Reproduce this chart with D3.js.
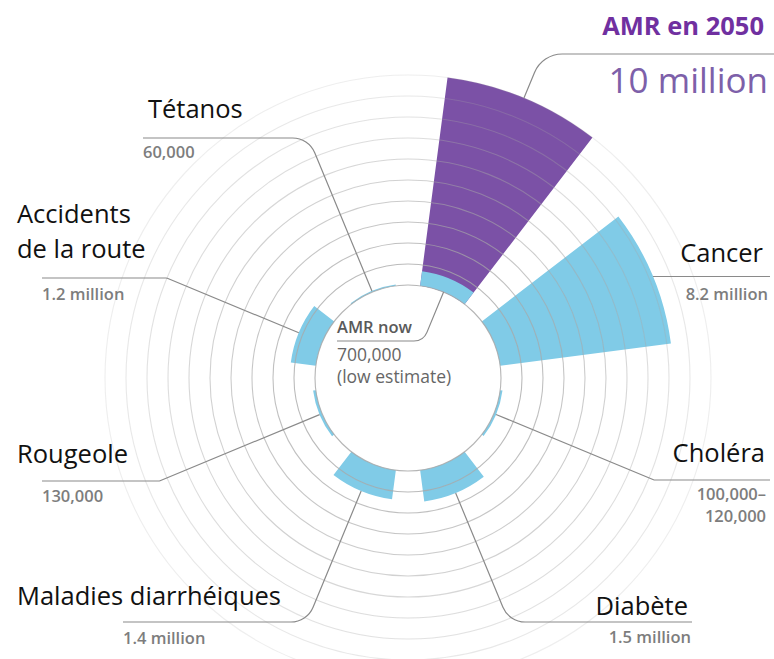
<!DOCTYPE html>
<html><head><meta charset="utf-8">
<script src="https://cdn.jsdelivr.net/npm/d3@7"></script>
<style>
html,body{margin:0;padding:0;background:#fff;}
svg{display:block;}
</style></head>
<body>
<script>
// ---- data ----
const categories = ["AMR en 2050","Cancer","Choléra","Diabète","Maladies diarrhéiques","Rougeole","Accidents de la route","Tétanos"];
const values = [10, 8.2, 0.11, 1.5, 1.4, 0.13, 1.2, 0.06]; // deaths per year, millions
const amrNowValue = 0.7;
const nameLabels = [["AMR en 2050"],["Cancer"],["Choléra"],["Diabète"],["Maladies diarrhéiques"],["Rougeole"],["Accidents","de la route"],["Tétanos"]];
const valueLabels = [["10 million"],["8.2 million"],["100,000–","120,000"],["1.5 million"],["1.4 million"],["130,000"],["1.2 million"],["60,000"]];
const amrNowLabels = ["AMR now","700,000","(low estimate)"];
const ringTicks = [0,1,2,3,4,5,6,7,8,9,10];

// ---- layout ----
const W = 774, H = 659, cx = 408, cy = 378;
const svg = d3.select("body").append("svg").attr("width", W).attr("height", H);
const g = svg.append("g").attr("transform", `translate(${cx},${cy})`);

const r = d3.scaleLinear().domain([0, 10]).range([93, 303]);
const ang = d3.scaleBand().domain(categories).range([0, 2 * Math.PI]).paddingInner(1/3).paddingOuter(1/6);
const mid = c => ang(c) + ang.bandwidth() / 2;
const pt = (a, rad) => [rad * Math.sin(a), -rad * Math.cos(a)];

const BLUE = "#80cbe7", PURPLE = "#7b51a6";

// bars
const arc = d3.arc();
g.selectAll("path.bar").data(categories).join("path")
  .attr("class", "bar")
  .attr("d", (c, i) => arc({innerRadius: r(0), outerRadius: r(values[i]), startAngle: ang(c), endAngle: ang(c) + ang.bandwidth()}))
  .attr("fill", (c, i) => i === 0 ? PURPLE : BLUE);
// AMR now portion
g.append("path")
  .attr("d", arc({innerRadius: r(0), outerRadius: r(amrNowValue), startAngle: ang(categories[0]), endAngle: ang(categories[0]) + ang.bandwidth()}))
  .attr("fill", BLUE);

// rings
g.selectAll("circle.ring").data(ringTicks).join("circle")
  .attr("class", "ring")
  .attr("r", d => r(d))
  .attr("fill", "none")
  .attr("stroke", "#a8a8a8")
  .attr("stroke-width", 1.1)
  .attr("stroke-opacity", d => 0.85 - d * 0.065);

// leader lines (layout per category: y of horizontal line, end x, corner radius)
const leaderLayout = [
  {y: 54, x: 774, R: 30},
  {y: null, x: 770, R: 0},
  {y: 480, x: 770, R: 4},
  {y: 622, x: 692, R: 24},
  {y: 622, x: 123, R: 24},
  {y: 481, x: 42, R: 4},
  {y: 278, x: 42, R: 4},
  {y: 138, x: 143, R: 24}
];
function leader(s, dir, y, x, R) {
  const p = d3.path();
  p.moveTo(s[0], s[1]);
  if (y === null) { p.lineTo(x, s[1]); return p.toString(); }
  const t = (y - s[1]) / dir[1];
  const c = [s[0] + t * dir[0], s[1] + t * dir[1]];
  p.arcTo(c[0], c[1], x, y, R);
  p.lineTo(x, y);
  return p.toString();
}
const lines = svg.append("g").attr("transform", `translate(${cx},${cy})`)
  .attr("fill", "none").attr("stroke", "#8a8a8a").attr("stroke-width", 1.2);
categories.forEach((c, i) => {
  const a = mid(c);
  const s = pt(a, r(values[i]));
  const dir = [Math.sin(a), -Math.cos(a)];
  const L = leaderLayout[i];
  lines.append("path").attr("d", leader(s, dir, L.y === null ? null : L.y - cy, L.x - cx, L.R));
});
// AMR now leader (inward)
{
  const a = mid(categories[0]);
  const s = pt(a, r(0));
  const dir = [-Math.sin(a), Math.cos(a)];
  lines.append("path").attr("d", leader(s, dir, 341 - cy, 337 - cx, 14));
}

// labels
const nameFont = "'Open Sans', Lato, sans-serif";
const numFont = "'Open Sans', 'DejaVu Sans', sans-serif";
const labelLayout = [
  null,
  {anchor: "end", x: 763, ys: [262], vx: 768, vys: [300]},
  {anchor: "end", x: 765, ys: [462], vx: 766, vys: [500, 522]},
  {anchor: "end", x: 688, ys: [615], vx: 691, vys: [643]},
  {anchor: "start", x: 17, ys: [605], vx: 123, vys: [644]},
  {anchor: "start", x: 17, ys: [463], vx: 42, vys: [502]},
  {anchor: "start", x: 17, ys: [223, 258], vx: 42, vys: [300]},
  {anchor: "start", x: 148, ys: [118], vx: 143, vys: [158]}
];
const txt = svg.append("g");
categories.forEach((c, i) => {
  const L = labelLayout[i];
  if (!L) return;
  nameLabels[i].forEach((t, j) => {
    txt.append("text").attr("x", L.x).attr("y", L.ys[j]).attr("text-anchor", L.anchor)
      .attr("font-family", nameFont).attr("font-size", 25.5).attr("fill", "#111").text(t);
  });
  valueLabels[i].forEach((t, j) => {
    txt.append("text").attr("x", L.vx).attr("y", L.vys[j]).attr("text-anchor", L.anchor)
      .attr("font-family", numFont).attr("font-weight", 600).attr("font-size", 16.5)
      .attr("fill", "#7d7d7d").text(t);
  });
});
// AMR 2050 title
txt.append("text").attr("x", 764).attr("y", 35).attr("text-anchor", "end")
  .attr("font-family", nameFont).attr("font-weight", 700).attr("font-size", 25.5)
  .attr("fill", "#7030a0").text(nameLabels[0][0]);
txt.append("text").attr("x", 768).attr("y", 93).attr("text-anchor", "end")
  .attr("font-family", numFont).attr("font-size", 35)
  .attr("fill", "#7d60a9").text(valueLabels[0][0]);
// AMR now
txt.append("text").attr("x", 337).attr("y", 333)
  .attr("font-family", numFont).attr("font-weight", 600).attr("font-size", 16.5)
  .attr("fill", "#5a5a5a").text(amrNowLabels[0]);
txt.append("text").attr("x", 337).attr("y", 361)
  .attr("font-family", numFont).attr("font-size", 17.5)
  .attr("fill", "#666").text(amrNowLabels[1]);
txt.append("text").attr("x", 337).attr("y", 383)
  .attr("font-family", numFont).attr("font-size", 17.5)
  .attr("fill", "#666").text(amrNowLabels[2]);
</script>
</body></html>
